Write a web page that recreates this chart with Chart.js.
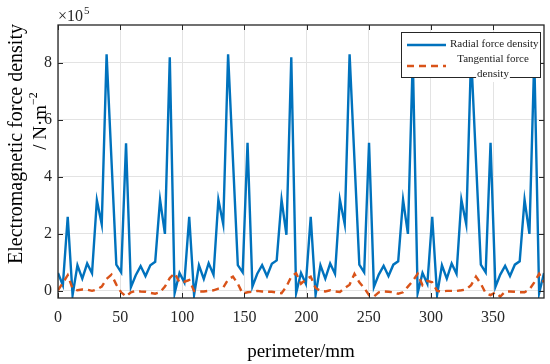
<!DOCTYPE html>
<html>
<head>
<meta charset="utf-8">
<script src="https://cdn.jsdelivr.net/npm/chart.js@4"></script>
<style>
html,body{margin:0;padding:0;background:#fff;}
#c{display:block;}
</style>
</head>
<body>
<canvas id="c" width="550" height="364"></canvas>
<script>
// perimeter positions (mm)
const perimeter = [0,3.91,7.82,11.73,15.64,19.55,23.46,27.37,31.28,35.19,39.1,43.01,46.92,50.83,54.74,58.65,62.56,66.47,70.38,74.29,78.2,82.11,86.02,89.93,93.84,97.75,101.66,105.57,109.48,113.39,117.3,121.21,125.12,129.03,132.94,136.85,140.76,144.67,148.58,152.49,156.4,160.31,164.22,168.13,172.04,175.95,179.86,183.77,187.68,191.59,195.5,199.41,203.32,207.23,211.14,215.05,218.96,222.87,226.78,230.69,234.6,238.51,242.42,246.33,250.24,254.15,258.06,261.97,265.88,269.79,273.7,277.61,281.52,285.43,289.34,293.25,297.16,301.07,304.98,308.89,312.8,316.71,320.62,324.53,328.44,332.35,336.26,340.17,344.08,347.99,351.9,355.81,359.72,363.63,367.54,371.45,375.36,379.27,383.18,387.09,391.0];
// radial force density (x1e5 N/m^2)
const radial = [
0.63,0.2,2.6,-0.15,0.9,0.43,0.96,0.62,3.18,2.34,8.3,4.6,0.92,0.65,5.18,0.13,0.55,0.87,0.52,0.9,1.02,3.2,2.0,8.2,-0.08,
0.63,0.3,2.6,-0.14,0.9,0.42,0.97,0.57,3.2,2.34,8.3,4.6,0.9,0.65,5.2,0.15,0.6,0.9,0.52,0.95,1.07,3.2,1.97,8.2,-0.08,
0.63,0.25,2.6,-0.14,0.9,0.43,0.96,0.6,3.2,2.34,8.3,4.6,0.92,0.65,5.2,0.14,0.57,0.88,0.52,0.92,1.04,3.2,2.0,8.2,-0.08,
0.63,0.25,2.6,-0.14,0.9,0.43,0.96,0.6,3.2,2.34,8.3,4.6,0.92,0.65,5.2,0.14,0.57,0.88,0.52,0.92,1.04,3.2,2.0,8.2,-0.08,
0.63];
// tangential force density (x1e5 N/m^2)
const tangential = [
0.02,0.28,0.55,0.08,0.02,0.05,0.04,0.0,0.05,0.15,0.42,0.57,0.22,-0.05,-0.2,-0.05,0.0,-0.02,-0.03,-0.07,-0.1,-0.05,0.15,0.45,0.62,
0.3,0.32,0.38,0.0,-0.02,-0.02,0.0,0.02,0.08,0.12,0.4,0.5,0.25,-0.1,-0.05,-0.03,0.0,-0.02,-0.03,-0.03,-0.06,-0.08,0.15,0.5,0.62,
0.25,0.4,0.5,0.1,0.0,-0.02,0.02,-0.02,-0.04,0.1,0.22,0.6,0.3,0.1,-0.15,-0.2,-0.05,-0.02,-0.03,-0.05,-0.1,-0.05,0.15,0.35,0.6,
0.2,0.35,0.3,0.0,-0.02,0.0,0.0,0.0,0.02,0.05,0.2,0.5,0.25,-0.08,-0.15,-0.05,-0.2,-0.03,-0.02,-0.03,-0.05,-0.05,0.05,0.3,0.6,
0.3];
const xTicks = [0,50,100,150,200,250,300,350];
const yTicks = [0,2,4,6,8];
const seriesNames = ['Radial force density', 'Tangential force density'];

const SERIF = '"Liberation Serif", "Times New Roman", serif';
const AXC = '#262626';
const BLUE = '#0072BD';
const ORANGE = '#D95319';
const DASH = [7,5];

const decor = {
  id: 'decor',
  afterDraw(chart) {
    const ctx = chart.ctx;
    const a = chart.chartArea;
    const xs = chart.scales.x, ys = chart.scales.y;
    ctx.save();
    // box
    ctx.strokeStyle = AXC;
    ctx.lineWidth = 1.3;
    ctx.strokeRect(a.left, a.top, a.right - a.left, a.bottom - a.top);
    // inward ticks
    ctx.lineWidth = 1;
    const tl = 5;
    ctx.beginPath();
    xTicks.forEach(v => {
      const x = Math.round(xs.getPixelForValue(v)) + 0.5;
      ctx.moveTo(x, a.bottom); ctx.lineTo(x, a.bottom - tl);
      ctx.moveTo(x, a.top); ctx.lineTo(x, a.top + tl);
    });
    yTicks.forEach(v => {
      const y = Math.round(ys.getPixelForValue(v)) + 0.5;
      ctx.moveTo(a.left, y); ctx.lineTo(a.left + tl, y);
      ctx.moveTo(a.right, y); ctx.lineTo(a.right - tl, y);
    });
    ctx.stroke();

    // x10^5
    ctx.fillStyle = AXC;
    ctx.textBaseline = 'alphabetic';
    ctx.textAlign = 'left';
    ctx.font = '16px ' + SERIF;
    ctx.fillText('\u00d710', a.left, 21);
    const w10 = ctx.measureText('\u00d710').width;
    ctx.font = '11px ' + SERIF;
    ctx.fillText('5', a.left + w10 + 1, 14);

    // x title
    ctx.font = '19px ' + SERIF;
    ctx.textAlign = 'center';
    ctx.textBaseline = 'middle';
    ctx.fillStyle = '#000';
    ctx.fillText('perimeter/mm', (a.left + a.right) / 2, 352);

    // y title line 1
    ctx.save();
    ctx.translate(17, 144);
    ctx.rotate(-Math.PI / 2);
    ctx.font = '20px ' + SERIF;
    ctx.fillText('Electromagnetic force density', 0, 0);
    ctx.restore();
    // y title line 2
    ctx.save();
    ctx.translate(41, 121);
    ctx.rotate(-Math.PI / 2);
    ctx.font = '19px ' + SERIF;
    const main = '/ N\u00b7m';
    const wm = ctx.measureText(main).width;
    ctx.font = '12px ' + SERIF;
    const sup = '\u22122';
    const ws = ctx.measureText(sup).width;
    const tot = wm + ws;
    ctx.textAlign = 'left';
    ctx.font = '19px ' + SERIF;
    ctx.fillText(main, -tot / 2, 0);
    ctx.font = '12px ' + SERIF;
    ctx.fillText(sup, -tot / 2 + wm, -7);
    ctx.restore();

    // legend
    const L = 401, T = 32, R = 541, B = 78;
    ctx.fillStyle = '#fff';
    ctx.fillRect(L, T, R - L, B - T);
    ctx.strokeStyle = AXC;
    ctx.lineWidth = 1;
    ctx.strokeRect(L + 0.5, T + 0.5, R - L - 1, B - T - 1);
    ctx.lineWidth = 2.5;
    ctx.strokeStyle = BLUE;
    ctx.beginPath(); ctx.moveTo(407, 45); ctx.lineTo(446, 45); ctx.stroke();
    ctx.strokeStyle = ORANGE;
    ctx.setLineDash(DASH);
    ctx.beginPath(); ctx.moveTo(407, 66); ctx.lineTo(446, 66); ctx.stroke();
    ctx.setLineDash([]);
    ctx.fillStyle = '#222';
    ctx.font = '11px ' + SERIF;
    ctx.textAlign = 'left';
    ctx.textBaseline = 'middle';
    ctx.fillText(seriesNames[0], 450, 44);
    ctx.textAlign = 'center';
    ctx.fillText('Tangential force', 493, 59);
    const wd = ctx.measureText('density').width;
    ctx.fillStyle = '#fff';
    ctx.fillRect(493 - wd / 2 - 1, 70, wd + 2, 12);
    ctx.fillStyle = '#222';
    ctx.fillText('density', 493, 74);
    ctx.restore();
  }
};

new Chart(document.getElementById('c'), {
  type: 'line',
  data: {
    datasets: [
      {
        label: seriesNames[0],
        data: perimeter.map((x, i) => ({x: x, y: radial[i]})),
        borderColor: BLUE,
        borderWidth: 2.4,
        pointRadius: 0,
        tension: 0,
        fill: false,
        order: 1
      },
      {
        label: seriesNames[1],
        data: perimeter.map((x, i) => ({x: x, y: tangential[i]})),
        borderColor: ORANGE,
        borderWidth: 2.4,
        borderDash: DASH,
        pointRadius: 0,
        tension: 0,
        fill: false,
        order: 0
      }
    ]
  },
  options: {
    responsive: false,
    animation: false,
    devicePixelRatio: 1,
    layout: { padding: { left: 0, right: 6, top: 25, bottom: 0 } },
    plugins: { legend: { display: false }, tooltip: { enabled: false }, title: { display: false } },
    scales: {
      x: {
        type: 'linear',
        min: 0,
        max: 391,
        afterBuildTicks: s => { s.ticks = xTicks.map(v => ({value: v})); },
        afterFit: s => { s.height = 66; },
        grid: { color: '#e3e3e3', lineWidth: 1, drawTicks: false },
        border: { display: false },
        ticks: { font: { family: SERIF, size: 16 }, color: AXC, padding: 10, maxRotation: 0, autoSkip: false }
      },
      y: {
        type: 'linear',
        min: -0.25,
        max: 9.33,
        afterBuildTicks: s => { s.ticks = yTicks.map(v => ({value: v})); },
        afterFit: s => { s.width = 58; },
        grid: { color: '#e3e3e3', lineWidth: 1, drawTicks: false },
        border: { display: false },
        ticks: { font: { family: SERIF, size: 16 }, color: AXC, padding: 6, callback: v => String(v) }
      }
    }
  },
  plugins: [decor]
});
</script>
</body>
</html>
